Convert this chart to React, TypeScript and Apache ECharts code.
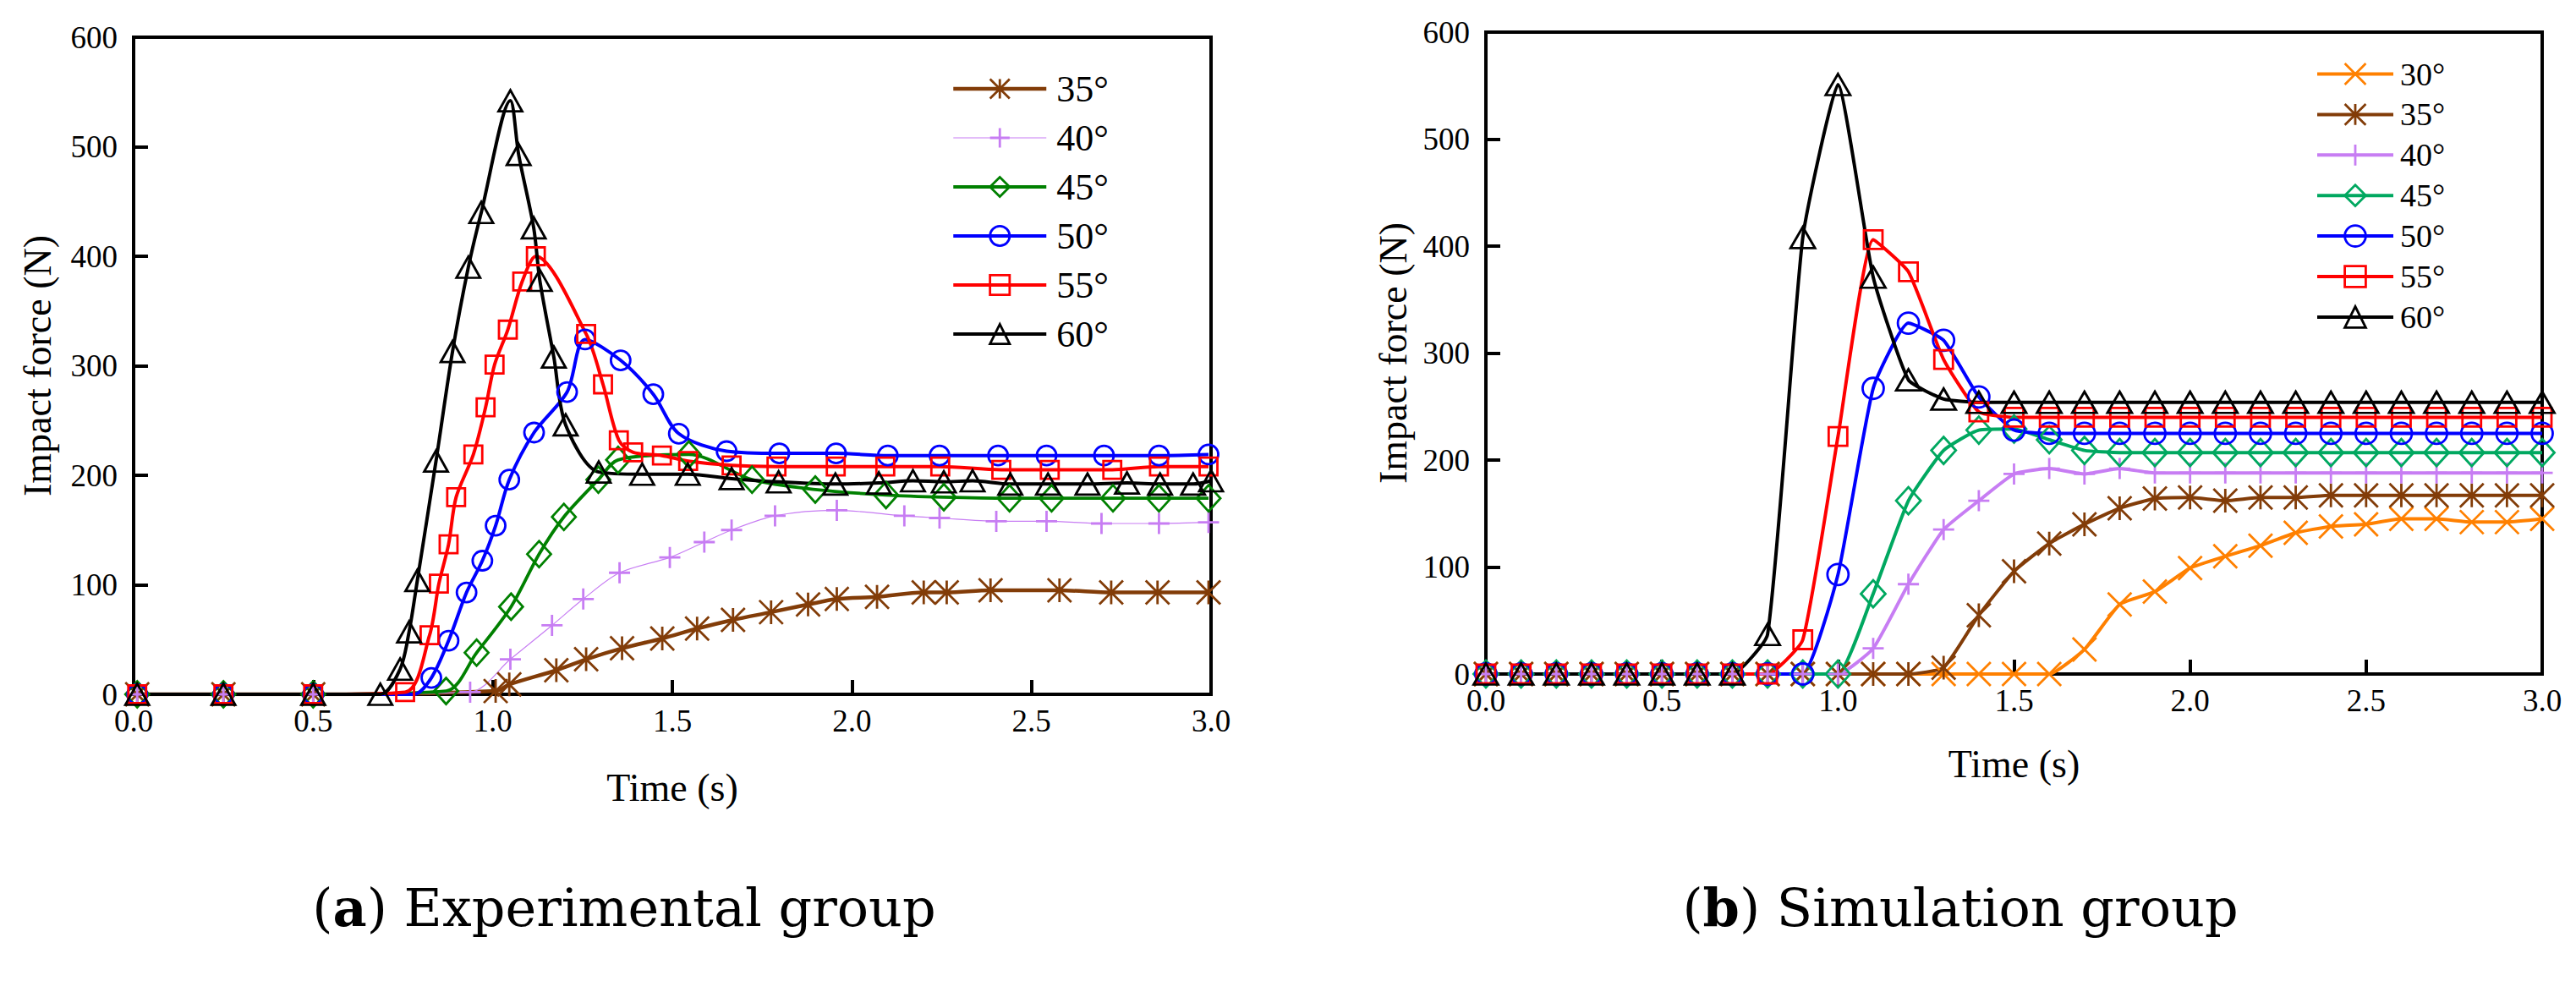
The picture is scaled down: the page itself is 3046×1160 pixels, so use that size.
import React, { useEffect, useRef } from 'react';
import * as echarts from 'echarts';

type Pt = [number, number];

// (a) Experimental group: [time (s), impact force (N)]
const exp35: Pt[] = [
  [0.01, 0], [0.25, 0], [0.5, 0], [1.008, 3], [1.046, 9], [1.177, 22], [1.26, 32], [1.36, 42],
  [1.472, 51], [1.569, 60], [1.669, 68], [1.775, 75], [1.878, 82], [1.958, 87], [2.07, 89],
  [2.2, 93], [2.264, 93], [2.386, 95], [2.578, 95], [2.722, 93], [2.851, 93], [2.993, 93],
];
const exp40: Pt[] = [
  [0.01, 0], [0.25, 0], [0.5, 0], [0.937, 2], [1.049, 32], [1.165, 63], [1.252, 87], [1.353, 111],
  [1.493, 125], [1.589, 139], [1.665, 150], [1.786, 163], [1.958, 168], [2.146, 163], [2.244, 161],
  [2.402, 158], [2.542, 158], [2.695, 156], [2.855, 156], [2.993, 157],
];
const exp45: Pt[] = [
  [0.01, 0], [0.25, 0], [0.5, 0], [0.87, 3], [0.955, 38], [1.051, 80], [1.129, 128], [1.198, 162],
  [1.294, 196], [1.349, 214], [1.546, 219], [1.722, 196], [1.898, 187], [2.095, 182], [2.256, 180],
  [2.439, 179], [2.556, 179], [2.727, 179], [2.855, 179], [2.993, 179],
];
const exp50: Pt[] = [
  [0.01, 0], [0.25, 0], [0.5, 0], [0.78, 0], [0.829, 15], [0.877, 49], [0.927, 93], [0.971, 122],
  [1.008, 154], [1.046, 196], [1.115, 239], [1.207, 276], [1.257, 324], [1.356, 305], [1.447, 274],
  [1.518, 238], [1.651, 222], [1.798, 220], [1.956, 220], [2.1, 218], [2.244, 218], [2.407, 218],
  [2.542, 218], [2.702, 218], [2.855, 218], [2.993, 219],
];
const exp50NoMarker = [0.78];
const exp55: Pt[] = [
  [0.01, 0], [0.25, 0], [0.5, 0], [0.756, 2], [0.824, 54], [0.85, 101], [0.877, 137], [0.898, 180],
  [0.946, 219], [0.98, 262], [1.005, 301], [1.042, 333], [1.082, 377], [1.12, 400], [1.26, 329],
  [1.307, 283], [1.351, 232], [1.391, 221], [1.471, 218], [1.544, 213], [1.665, 209], [1.79, 208],
  [1.955, 208], [2.093, 208], [2.246, 208], [2.416, 205], [2.551, 205], [2.725, 205], [2.855, 208],
  [2.993, 208],
];
const exp60: Pt[] = [
  [0.01, 0], [0.25, 0], [0.5, 0], [0.687, 0], [0.742, 23], [0.767, 57], [0.79, 104], [0.842, 213],
  [0.888, 313], [0.932, 390], [0.968, 440], [1.049, 542], [1.072, 493], [1.114, 426], [1.131, 378],
  [1.17, 308], [1.203, 246], [1.295, 203], [1.416, 201], [1.543, 201], [1.665, 197], [1.796, 194],
  [1.954, 192], [2.075, 193], [2.17, 195], [2.256, 194], [2.336, 195], [2.441, 192], [2.546, 192],
  [2.656, 192], [2.766, 193], [2.858, 192], [2.95, 192], [3.0, 195],
];

// (b) Simulation group: sampled every 0.1 s
const simTime = [
  0.0, 0.1, 0.2, 0.3, 0.4, 0.5, 0.6, 0.7, 0.8, 0.9, 1.0, 1.1, 1.2, 1.3, 1.4, 1.5,
  1.6, 1.7, 1.8, 1.9, 2.0, 2.1, 2.2, 2.3, 2.4, 2.5, 2.6, 2.7, 2.8, 2.9, 3.0,
];
const sim30 = [0, 0, 0, 0, 0, 0, 0, 0, 0, 0, 0, 0, 0, 0, 0, 0, 0, 23, 65, 77, 99, 110, 120, 132, 138, 140, 145, 145, 142, 142, 145];
const sim35 = [0, 0, 0, 0, 0, 0, 0, 0, 0, 0, 0, 0, 0, 6, 55, 96, 122, 140, 155, 164, 165, 162, 165, 165, 167, 167, 167, 167, 167, 167, 167];
const sim40 = [0, 0, 0, 0, 0, 0, 0, 0, 0, 0, 0, 24, 84, 135, 162, 187, 192, 187, 192, 188, 188, 188, 188, 188, 188, 188, 188, 188, 188, 188, 188];
const sim45 = [0, 0, 0, 0, 0, 0, 0, 0, 0, 0, 0, 75, 162, 209, 228, 229, 219, 209, 207, 207, 207, 207, 207, 207, 207, 207, 207, 207, 207, 207, 207];
const sim50 = [0, 0, 0, 0, 0, 0, 0, 0, 0, 0, 93, 267, 328, 312, 259, 228, 225, 225, 225, 225, 225, 225, 225, 225, 225, 225, 225, 225, 225, 225, 225];
const sim55 = [0, 0, 0, 0, 0, 0, 0, 0, 0, 32, 222, 406, 376, 294, 245, 240, 240, 240, 240, 240, 240, 240, 240, 240, 240, 240, 240, 240, 240, 240, 240];
const sim60 = [0, 0, 0, 0, 0, 0, 0, 0, 37, 408, 551, 371, 275, 257, 254, 254, 254, 254, 254, 254, 254, 254, 254, 254, 254, 254, 254, 254, 254, 254, 254];

const SERIF = "'Liberation Serif', 'Times New Roman', serif";
const CAPTION_FONT = "'DejaVu Serif', serif";

const SYM = {
  asterisk: 'path://M0,-10L0,10M-10,-10L10,10M-10,10L10,-10',
  plus: 'path://M-10,0L10,0M0,-10L0,10',
  cross: 'path://M-10,-10L10,10M-10,10L10,-10',
  diamond: 'path://M0,-10L10,0L0,10L-10,0Z',
  circle: 'path://M-10,0A10,10,0,1,1,10,0A10,10,0,1,1,-10,0Z',
  square: 'path://M-10,-10L10,-10L10,10L-10,10Z',
  triangle: 'path://M0,-10L11.5,10L-11.5,10Z',
};

interface Look {
  label: string;
  color: string;
  symbol: string;
  size: number | [number, number];
  line: number;
}

const expLooks: Look[] = [
  { label: '35°', color: '#823C08', symbol: SYM.asterisk, size: 28, line: 4.5 },
  { label: '40°', color: '#C77DF3', symbol: SYM.plus, size: 25, line: 1.2 },
  { label: '45°', color: '#008000', symbol: SYM.diamond, size: [28, 31], line: 3.8 },
  { label: '50°', color: '#0000FF', symbol: SYM.circle, size: 23, line: 4 },
  { label: '55°', color: '#FF0000', symbol: SYM.square, size: 21, line: 4 },
  { label: '60°', color: '#000000', symbol: SYM.triangle, size: [28, 25], line: 4 },
];
const expData: Pt[][] = [exp35, exp40, exp45, exp50, exp55, exp60];

const simLooks: Look[] = [
  { label: '30°', color: '#FF8000', symbol: SYM.cross, size: 28, line: 4 },
  { label: '35°', color: '#823C08', symbol: SYM.asterisk, size: 28, line: 4 },
  { label: '40°', color: '#C77DF3', symbol: SYM.plus, size: 25, line: 4 },
  { label: '45°', color: '#00A860', symbol: SYM.diamond, size: [29, 32], line: 4 },
  { label: '50°', color: '#0000FF', symbol: SYM.circle, size: 25, line: 4 },
  { label: '55°', color: '#FF0000', symbol: SYM.square, size: 22, line: 4 },
  { label: '60°', color: '#000000', symbol: SYM.triangle, size: [29, 25], line: 4 },
];
const simData = [sim30, sim35, sim40, sim45, sim50, sim55, sim60];

function lineSeries(prefix: string, look: Look, data: any[], grid: number, smooth: number) {
  return {
    type: 'line',
    name: prefix + look.label,
    xAxisIndex: grid,
    yAxisIndex: grid,
    data,
    smooth,
    symbol: look.symbol,
    symbolSize: look.size,
    lineStyle: { color: look.color, width: look.line },
    itemStyle: { color: 'transparent', borderColor: look.color, borderWidth: 2.8 },
    emphasis: { disabled: true },
    silent: true,
  };
}

function legendItem(prefix: string, look: Look) {
  return {
    name: prefix + look.label,
    itemStyle: { color: 'transparent', borderColor: look.color, borderWidth: 2.8 },
    lineStyle: { color: look.color, width: look.line },
  };
}

function xAxis(gridIndex: number, nameGap: number) {
  return {
    gridIndex,
    type: 'value',
    min: 0,
    max: 3,
    interval: 0.5,
    name: 'Time (s)',
    nameLocation: 'middle',
    nameGap,
    nameTextStyle: { fontFamily: SERIF, fontSize: 46, color: '#000' },
    axisLine: { show: true, onZero: false, lineStyle: { color: '#000', width: 4 } },
    axisTick: { show: true, inside: true, length: 17, lineStyle: { color: '#000', width: 4 } },
    axisLabel: {
      fontFamily: SERIF, fontSize: 37, color: '#000', margin: 13,
      formatter: (v: number) => v.toFixed(1),
    },
    splitLine: { show: false },
  };
}

function yAxis(gridIndex: number, nameGap: number) {
  return {
    gridIndex,
    type: 'value',
    min: 0,
    max: 600,
    interval: 100,
    name: 'Impact force (N)',
    nameLocation: 'middle',
    nameGap,
    nameTextStyle: { fontFamily: SERIF, fontSize: 46, color: '#000' },
    axisLine: { show: true, onZero: false, lineStyle: { color: '#000', width: 4 } },
    axisTick: { show: true, inside: true, length: 17, lineStyle: { color: '#000', width: 4 } },
    axisLabel: { fontFamily: SERIF, fontSize: 37, color: '#000', margin: 19 },
    splitLine: { show: false },
  };
}

function caption(letter: string, rest: string, x: number, y: number) {
  return {
    type: 'text',
    x,
    y,
    silent: true,
    style: {
      text: `{p|(}{b|${letter}}{p|) ${rest}}`,
      rich: {
        p: { fontFamily: CAPTION_FONT, fontSize: 62, fill: '#000' },
        b: { fontFamily: CAPTION_FONT, fontSize: 62, fontWeight: 'bold', fill: '#000' },
      },
      fill: '#000',
      align: 'center',
      verticalAlign: 'middle',
      textAlign: 'center',
      textVerticalAlign: 'middle',
    },
  };
}

const App: React.FC = () => {
  const chartRef = useRef<HTMLDivElement>(null);

  useEffect(() => {
    if (!chartRef.current) return;
    const chart = echarts.init(chartRef.current, undefined, { renderer: 'svg' });

    const expSeries = expLooks.map((look, i) =>
      lineSeries(
        'a',
        look,
        expData[i].map((p) =>
          look.label === '50°' && exp50NoMarker.includes(p[0]) ? { value: p, symbol: 'none' } : p
        ),
        0,
        0.3
      )
    );
    const simSeries = simLooks.map((look, i) =>
      lineSeries('b', look, simTime.map((t, j) => [t, simData[i][j]]), 1, 0.15)
    );

    const option: any = {
      animation: false,
      backgroundColor: '#fff',
      grid: [
        {
          left: 158, top: 44, width: 1274, height: 777,
          show: true, borderColor: '#000', borderWidth: 4, backgroundColor: 'transparent',
          containLabel: false, outerBoundsMode: 'none',
        },
        {
          left: 1757, top: 38, width: 1249, height: 759,
          show: true, borderColor: '#000', borderWidth: 4, backgroundColor: 'transparent',
          containLabel: false, outerBoundsMode: 'none',
        },
      ],
      xAxis: [xAxis(0, 87), xAxis(1, 83)],
      yAxis: [yAxis(0, 91), yAxis(1, 87)],
      legend: [
        {
          orient: 'vertical',
          left: 1125,
          top: 83,
          padding: 0,
          itemWidth: 110,
          itemHeight: 29,
          itemGap: 14,
          selectedMode: false,
          data: expLooks.map((l) => legendItem('a', l)),
          formatter: (n: string) => n.slice(1),
          textStyle: { fontFamily: SERIF, fontSize: 44, color: '#000', lineHeight: 29, padding: [0, 0, 0, 7] },
        },
        {
          orient: 'vertical',
          left: 2738,
          top: 68.5,
          padding: 0,
          itemWidth: 90,
          itemHeight: 31,
          itemGap: 9.9,
          selectedMode: false,
          data: simLooks.map((l) => legendItem('b', l)),
          formatter: (n: string) => n.slice(1),
          textStyle: { fontFamily: SERIF, fontSize: 38, color: '#000', lineHeight: 31, padding: [0, 0, 0, 3] },
        },
      ],
      graphic: [
        caption('a', 'Experimental group', 738, 1073),
        caption('b', 'Simulation group', 2318, 1073),
      ],
      series: [...expSeries, ...simSeries],
    };

    chart.setOption(option);

    return () => {
      chart.dispose();
    };
  }, []);

  return (
    <div
      ref={chartRef}
      style={{ position: 'absolute', left: 0, top: 0, width: '3046px', height: '1160px' }}
    />
  );
};

export default App;
